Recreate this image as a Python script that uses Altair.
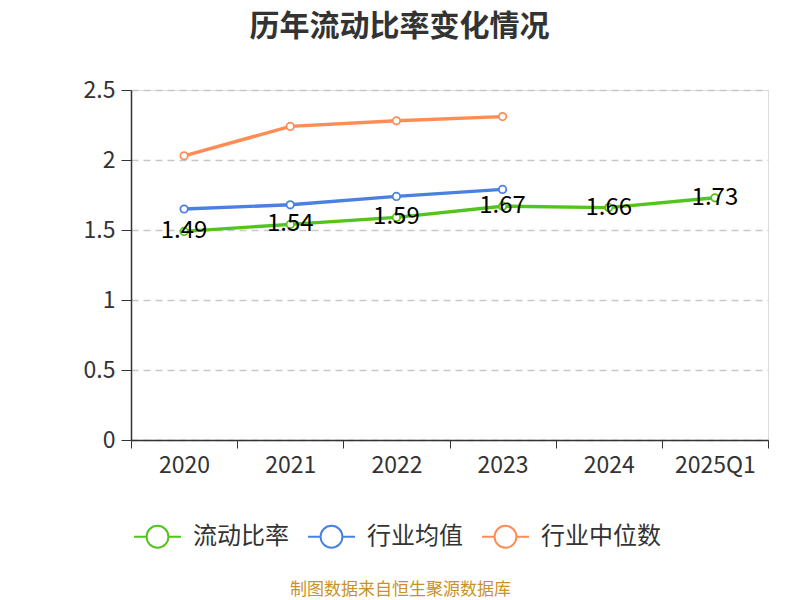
import altair as alt
import pandas as pd

years = ["2020", "2021", "2022", "2023", "2024", "2025Q1"]
ratio = [1.49, 1.54, 1.59, 1.67, 1.66, 1.73]
ind_avg = [1.65, 1.68, 1.74, 1.79]
ind_med = [2.03, 2.24, 2.28, 2.31]

series_names = ["流动比率", "行业均值", "行业中位数"]
colors = ["#52c41a", "#4a80e0", "#ff8c55"]

rows = []
for y, v in zip(years, ratio):
    rows.append({"year": y, "value": v, "series": series_names[0]})
for y, v in zip(years, ind_avg):
    rows.append({"year": y, "value": v, "series": series_names[1]})
for y, v in zip(years, ind_med):
    rows.append({"year": y, "value": v, "series": series_names[2]})
df = pd.DataFrame(rows)

FONT = "Noto Sans CJK SC"
SOURCE = "制图数据来自恒生聚源数据库"

xenc = alt.X(
    "year:N",
    sort=years,
    scale=alt.Scale(type="band", paddingInner=0, paddingOuter=0),
    axis=alt.Axis(
        title=SOURCE,
        titleColor="#c8922a",
        titleFontSize=17,
        titleFontWeight="normal",
        titleFont=FONT,
        titleX=269,
        titleY=149,
        titleAnchor="middle",
        titleBaseline="middle",
        labelAngle=0,
        labelFontSize=23,
        labelColor="#333333",
        labelPadding=6,
        tickBand="extent",
        tickSize=8,
        tickColor="#333333",
        domainColor="#333333",
        domainWidth=1.5,
        grid=False,
    ),
)
yenc = alt.Y(
    "value:Q",
    scale=alt.Scale(domain=[0, 2.5], nice=False),
    axis=alt.Axis(
        title=None,
        values=[0, 0.5, 1, 1.5, 2, 2.5],
        format="~g",
        labelFontSize=23,
        labelColor="#333333",
        labelPadding=6,
        tickSize=10,
        tickColor="#333333",
        domainColor="#333333",
        domainWidth=1.5,
        gridDash=[7, 5],
        gridColor="#c8c8c8",
        gridWidth=1.4,
    ),
)

sym = "M -2.04 0 L -0.95 0 M 0.95 0 L 2.04 0 M -0.95 0 A 0.95 0.95 0 1 0 0.95 0 A 0.95 0.95 0 1 0 -0.95 0"

color_scale = alt.Scale(domain=series_names, range=colors)

lines = alt.Chart(df).mark_line(strokeWidth=3.4).encode(
    x=xenc,
    y=yenc,
    color=alt.Color(
        "series:N",
        scale=color_scale,
        sort=series_names,
        legend=alt.Legend(
            title=None,
            orient="none",
            direction="horizontal",
            legendX=14,
            legendY=434,
            symbolType=sym,
            symbolSize=529,
            symbolStrokeWidth=2,
            symbolFillColor="white",
            labelFontSize=24,
            labelFont=FONT,
            labelColor="#333333",
            labelOffset=23,
            columnPadding=15,
        ),
    ),
)

points = alt.Chart(df).mark_point(filled=True, fill="white", size=55, strokeWidth=1.8, opacity=1).encode(
    x=xenc,
    y=yenc,
    stroke=alt.Stroke("series:N", scale=color_scale, legend=None),
)

labels = alt.Chart(df[df["series"] == series_names[0]]).mark_text(
    fontSize=24, font=FONT, color="#000000", align="center", baseline="middle", dy=0
).encode(
    x=xenc,
    y=yenc,
    text=alt.Text("value:Q", format=".2f"),
)

chart = (
    alt.layer(lines, points, labels)
    .properties(
        width=637,
        height=350,
        autosize=alt.AutoSizeParams(type="none"),
        padding={"left": 123, "top": 82, "right": 24, "bottom": 170},
        title=alt.TitleParams(
            text="历年流动比率变化情况",
            fontSize=30,
            fontWeight="bold",
            font=FONT,
            color="#333333",
            anchor="middle",
            dx=-50,
            offset=37,
        ),
    )
    .configure_view(stroke=None)
    .configure(font=FONT)
)

chart.save("out.html", embed_options={"renderer": "svg", "actions": False})
